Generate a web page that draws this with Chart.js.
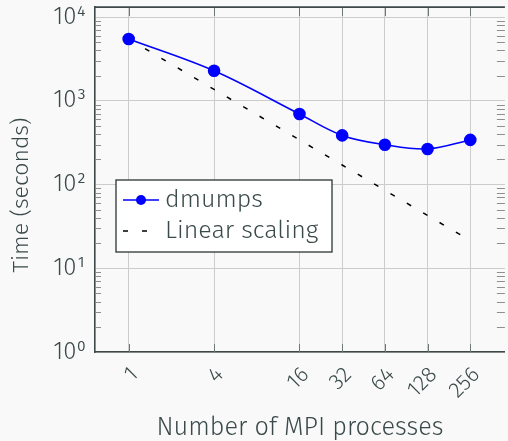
<!DOCTYPE html>
<html>
<head>
<meta charset="utf-8">
<script src="https://cdn.jsdelivr.net/npm/chart.js@4.4.1/dist/chart.umd.min.js"></script>
<style>
  html, body { margin: 0; padding: 0; background: #f9f9f9; overflow: hidden; }
  #wrap { width: 512px; height: 441px; }
</style>
</head>
<body>
<div id="wrap"><canvas id="chart" width="512" height="441"></canvas></div>
<script>
// data
const processes = [1, 4, 16, 32, 64, 128, 256];
const dmumpsTimes = [5470, 2280, 695, 386, 299, 266, 341];
const linearTimes = [5470, 1368, 342, 171, 85.5, 42.7, 21.4];
const xTickValues = [1, 4, 16, 32, 64, 128, 256];
const yTickValues = [1, 10, 100, 1000, 10000];
const yTickLabels = ['10⁰', '10¹', '10²', '10³', '10⁴'];

const FONT = '"Fira Sans", "Noto Sans", "Open Sans", sans-serif';
const TEXT = '#3a4949';
const AXIS = '#3d4848';

// little inner ticks, titles, frame and legend like the pgfplots original
const decorPlugin = {
    id: 'decor',
    beforeDatasetsDraw(chart) {
        const {ctx, chartArea: a, scales: {x, y}} = chart;
        ctx.save();
        ctx.strokeStyle = '#8a8f8f';
        ctx.lineWidth = 1;
        ctx.beginPath();
        for (let d = 1; d <= 10000; d *= 10) {
            for (let m = 2; m <= 9; m++) {
                const v = d * m;
                if (v > y.max) continue;
                const py = Math.round(y.getPixelForValue(v)) + 0.5;
                ctx.moveTo(a.left, py); ctx.lineTo(a.left + 6, py);
                ctx.moveTo(a.right - 8, py); ctx.lineTo(a.right, py);
            }
        }
        ctx.stroke();
        ctx.strokeStyle = '#6f7777';
        ctx.beginPath();
        xTickValues.forEach(v => {
            const px = Math.round(x.getPixelForValue(v)) + 0.5;
            ctx.moveTo(px, a.bottom); ctx.lineTo(px, a.bottom - 8);
            ctx.moveTo(px, a.top); ctx.lineTo(px, a.top + 9);
        });
        ctx.stroke();
        // top frame line
        ctx.strokeStyle = AXIS;
        ctx.lineWidth = 1.6;
        ctx.beginPath();
        ctx.moveTo(a.left, a.top); ctx.lineTo(a.right, a.top);
        ctx.stroke();
        ctx.restore();
    },
    afterDraw(chart) {
        const {ctx} = chart;
        ctx.save();
        // y title
        ctx.fillStyle = TEXT;
        ctx.font = '300 23px ' + FONT;
        ctx.textAlign = 'center';
        ctx.textBaseline = 'middle';
        ctx.translate(22, 195);
        ctx.rotate(-Math.PI / 2);
        ctx.fillText('Time (seconds)', 0, 0);
        ctx.restore();

        // legend box
        ctx.save();
        const bx = 116, by = 180, bw = 216, bh = 72;
        ctx.fillStyle = '#ffffff';
        ctx.fillRect(bx, by, bw, bh);
        ctx.strokeStyle = '#2b3434';
        ctx.lineWidth = 1.3;
        ctx.strokeRect(bx, by, bw, bh);
        const ds = chart.data.datasets;
        // dmumps row
        ctx.strokeStyle = ds[0].borderColor;
        ctx.lineWidth = 1.5;
        ctx.beginPath();
        ctx.moveTo(123, 200); ctx.lineTo(159, 200);
        ctx.stroke();
        ctx.fillStyle = ds[0].pointBackgroundColor;
        ctx.beginPath();
        ctx.arc(141, 200, 5, 0, Math.PI * 2);
        ctx.fill();
        // linear row
        ctx.strokeStyle = ds[1].borderColor;
        ctx.setLineDash(ds[1].borderDash);
        ctx.beginPath();
        ctx.moveTo(123, 231); ctx.lineTo(148, 231);
        ctx.stroke();
        ctx.setLineDash([]);
        ctx.fillStyle = TEXT;
        ctx.font = '300 25px ' + FONT;
        ctx.textAlign = 'left';
        ctx.textBaseline = 'middle';
        ctx.fillText(ds[0].label, 165, 200);
        ctx.fillText(ds[1].label, 165, 231);
        ctx.restore();
    }
};

const chart = new Chart(document.getElementById('chart'), {
    type: 'line',
    data: {
        datasets: [{
            label: 'dmumps',
            data: processes.map((p, i) => ({x: p, y: dmumpsTimes[i]})),
            borderColor: '#0000ff',
            backgroundColor: '#0000ff',
            pointBackgroundColor: '#0000ff',
            pointBorderColor: '#0000ff',
            pointRadius: 5.5,
            borderWidth: 1.6,
            tension: 0.35,
            order: 0
        }, {
            label: 'Linear scaling',
            data: processes.map((p, i) => ({x: p, y: linearTimes[i]})),
            borderColor: '#000000',
            borderDash: [5, 14],
            borderWidth: 1.5,
            pointRadius: 0,
            tension: 0,
            order: 1
        }]
    },
    options: {
        responsive: false,
        animation: false,
        devicePixelRatio: 1,
        layout: { padding: { top: 7, left: 0, right: 3, bottom: 0 } },
        plugins: {
            legend: { display: false },
            tooltip: { enabled: false }
        },
        scales: {
            x: {
                type: 'logarithmic',
                min: 0.579,
                max: 449,
                afterBuildTicks: (scale) => { scale.ticks = xTickValues.map(v => ({value: v})); },
                afterFit: (scale) => { scale.height = 89; scale.paddingLeft = 0; scale.paddingRight = 0; },
                ticks: {
                    autoSkip: false,
                    minRotation: 45,
                    maxRotation: 45,
                    padding: 10,
                    labelOffset: 6,
                    color: TEXT,
                    font: { family: FONT, size: 22, weight: 300 },
                    callback: (v) => String(v)
                },
                grid: { color: '#cccccc', lineWidth: 1, drawTicks: false },
                border: { color: AXIS, width: 1.6 },
                title: {
                    display: true,
                    text: 'Number of MPI processes',
                    color: TEXT,
                    font: { family: FONT, size: 25.3, weight: 300 },
                    padding: { top: 0, bottom: -2 }
                }
            },
            y: {
                type: 'logarithmic',
                min: 1,
                max: 13150,
                afterBuildTicks: (scale) => { scale.ticks = yTickValues.map(v => ({value: v})); },
                afterFit: (scale) => { scale.width = 95; scale.paddingTop = 0; scale.paddingBottom = 0; },
                ticks: {
                    autoSkip: false,
                    padding: 9,
                    color: TEXT,
                    font: { family: FONT, size: 24, weight: 300 },
                    callback: (v) => {
                        const i = yTickValues.indexOf(v);
                        return i >= 0 ? yTickLabels[i] : '';
                    }
                },
                grid: { color: '#cccccc', lineWidth: 1, drawTicks: false },
                border: { color: AXIS, width: 1.6 }
            }
        }
    },
    plugins: [decorPlugin]
});
</script>
</body>
</html>
